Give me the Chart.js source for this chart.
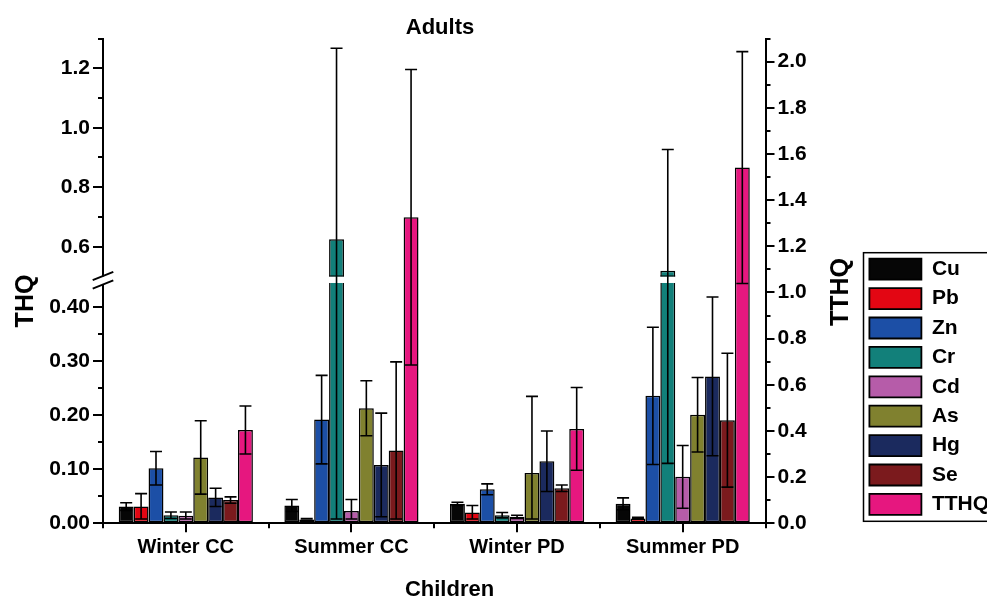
<!DOCTYPE html>
<html><head><meta charset="utf-8">
<script src="https://cdn.jsdelivr.net/npm/chart.js@4.4.1/dist/chart.umd.min.js"></script>
<style>
html,body{margin:0;padding:0;background:#fff;overflow:hidden;}
#wrap{position:relative;width:987px;height:599px;}
canvas{display:block;}
</style></head><body>
<div id="wrap"><canvas id="c" width="987" height="599"></canvas></div>
<script>
// ---------------- data ----------------
const categories = ['Winter CC', 'Summer CC', 'Winter PD', 'Summer PD'];
const seriesNames = ['Cu', 'Pb', 'Zn', 'Cr', 'Cd', 'As', 'Hg', 'Se', 'TTHQ'];

const Cu    = [0.031, 0.033, 0.036, 0.036];
const CuErr = [0.007, 0.011, 0.003, 0.011];
const Pb    = [0.031, 0.007, 0.020, 0.009];
const PbErr = [0.024, 0.002, 0.013, 0.002];
const Zn    = [0.102, 0.192, 0.063, 0.236];
const ZnErr = [0.031, 0.082, 0.010, 0.127];
const Cr    = [0.015, 0.625, 0.015, 0.519];
const CrErr = [0.006, 0.642, 0.005, 0.408];
const Cd    = [0.014, 0.023, 0.012, 0.086];
const CdErr = [0.007, 0.021, 0.003, 0.058];
const As    = [0.122, 0.213, 0.093, 0.201];
const AsErr = [0.068, 0.051, 0.142, 0.069];
const Hg    = [0.048, 0.108, 0.115, 0.272];
const HgErr = [0.017, 0.096, 0.056, 0.147];
const Se    = [0.043, 0.135, 0.065, 0.191];
const SeErr = [0.006, 0.164, 0.006, 0.124];
const TTHQ    = [0.404, 1.326, 0.409, 1.541];
const TTHQErr = [0.104, 0.640, 0.179, 0.502];

const leftMajorTicks  = [0, 0.1, 0.2, 0.3, 0.4, 0.6, 0.8, 1.0, 1.2];
const leftMinorTicks  = [0.05, 0.15, 0.25, 0.35, 0.7, 0.9, 1.1, 1.3];
const rightMajorTicks = [0, 0.2, 0.4, 0.6, 0.8, 1.0, 1.2, 1.4, 1.6, 1.8, 2.0];
const rightMinorTicks = [0.1, 0.3, 0.5, 0.7, 0.9, 1.1, 1.3, 1.5, 1.7, 1.9, 2.1];

const topTitle = 'Adults';
const bottomTitle = 'Children';
const leftTitle = 'THQ';
const rightTitle = 'TTHQ';

// ---------------- styling ----------------
const FONT = "'Liberation Sans', Arial, Helvetica, sans-serif";
const colors = ['#060606', '#e30613', '#1c4fa6', '#12807a', '#b65ca9', '#80812f', '#1b2a5e', '#7b1a1d', '#e6177f'];
const values = [Cu, Pb, Zn, Cr, Cd, As, Hg, Se, TTHQ];
const errors = [CuErr, PbErr, ZnErr, CrErr, CdErr, AsErr, HgErr, SeErr, TTHQErr];

// broken left axis: lower segment [0, BREAK_LOW], upper [BREAK_HIGH, AX_TOP]
const BREAK_LOW = 0.445, BREAK_HIGH = 0.5, AX_TOP = 1.3;
const LOW_SHARE = 0.4957, GAP_SHARE = 0.0134;
const ERR_FLOOR = 0.008;

function brokenFrac(v) {
  if (v <= BREAK_LOW) return v / BREAK_LOW * LOW_SHARE;
  if (v >= BREAK_HIGH) return LOW_SHARE + GAP_SHARE + (v - BREAK_HIGH) / (AX_TOP - BREAK_HIGH) * (1 - LOW_SHARE - GAP_SHARE);
  return LOW_SHARE + (v - BREAK_LOW) / (BREAK_HIGH - BREAK_LOW) * GAP_SHARE;
}
function brokenInv(f) {
  if (f <= LOW_SHARE) return f / LOW_SHARE * BREAK_LOW;
  if (f >= LOW_SHARE + GAP_SHARE) return BREAK_HIGH + (f - LOW_SHARE - GAP_SHARE) / (1 - LOW_SHARE - GAP_SHARE) * (AX_TOP - BREAK_HIGH);
  return BREAK_LOW + (f - LOW_SHARE) / GAP_SHARE * (BREAK_HIGH - BREAK_LOW);
}

class BrokenScale extends Chart.LinearScale {
  static id = 'brokenLinear';
  static defaults = {};
  buildTicks() { return leftMajorTicks.map(v => ({value: v})); }
  getPixelForValue(v) { return (v === null || v === undefined) ? NaN : this.getPixelForDecimal(brokenFrac(v)); }
  getValueForPixel(p) { return brokenInv(this.getDecimalForPixel(p)); }
}
Chart.register(BrokenScale);

const datasets = seriesNames.map((name, i) => ({
  label: name,
  data: values[i],
  backgroundColor: colors[i],
  borderColor: '#000',
  borderWidth: 1.5,
  borderSkipped: false,
  yAxisID: name === 'TTHQ' ? 'y2' : 'y',
  categoryPercentage: 0.81,
  barPercentage: 1.0
}));

const extras = {
  id: 'extras',
  afterDatasetsDraw(chart) {
    const ctx = chart.ctx;
    const ys = chart.scales.y;
    const gapTop = ys.getPixelForValue(BREAK_HIGH), gapBot = ys.getPixelForValue(BREAK_LOW);
    ctx.save();
    // break gap in bars that cross the axis break
    chart.data.datasets.forEach((ds, i) => {
      const meta = chart.getDatasetMeta(i);
      if (meta.yAxisID !== 'y') return;
      meta.data.forEach((el, j) => {
        if (ds.data[j] > BREAK_HIGH) {
          const l = el.x - el.width / 2, w = el.width;
          ctx.fillStyle = '#fff';
          ctx.fillRect(l - 0.5, gapTop, w + 1, gapBot - gapTop);
          ctx.strokeStyle = '#000'; ctx.lineWidth = 1;
          ctx.beginPath();
          ctx.moveTo(l, gapTop - 0.5); ctx.lineTo(l + w, gapTop - 0.5);
          ctx.stroke();
        }
      });
    });
    // error bars
    ctx.strokeStyle = '#000';
    ctx.lineWidth = 1.6;
    chart.data.datasets.forEach((ds, i) => {
      const meta = chart.getDatasetMeta(i);
      const sc = chart.scales[meta.yAxisID];
      meta.data.forEach((el, j) => {
        const v = ds.data[j], e = errors[i][j];
        const yh = sc.getPixelForValue(v + e);
        const yl = sc.getPixelForValue(Math.max(v - e, ERR_FLOOR));
        const x = el.x, cw = 6;
        ctx.beginPath();
        ctx.moveTo(x, yl); ctx.lineTo(x, yh);
        ctx.moveTo(x - cw, yh); ctx.lineTo(x + cw, yh);
        ctx.moveTo(x - cw, yl); ctx.lineTo(x + cw, yl);
        ctx.stroke();
      });
    });
    ctx.restore();
  },
  afterDraw(chart) {
    const ctx = chart.ctx;
    const ca = chart.chartArea;
    const ys = chart.scales.y, y2 = chart.scales.y2;
    ctx.save();
    ctx.strokeStyle = '#000';
    ctx.lineWidth = 2;
    // minor ticks
    ctx.beginPath();
    leftMinorTicks.forEach(v => { const p = Math.round(ys.getPixelForValue(v)); ctx.moveTo(ca.left - 5, p); ctx.lineTo(ca.left, p); });
    rightMinorTicks.forEach(v => { const p = Math.round(y2.getPixelForValue(v)); ctx.moveTo(ca.right, p); ctx.lineTo(ca.right + 5, p); });
    const cw = (ca.right - ca.left) / categories.length;
    for (let k = 0; k <= categories.length; k++) {
      const x = Math.round(ca.left + k * cw);
      ctx.moveTo(x, ca.bottom); ctx.lineTo(x, ca.bottom + 5);
    }
    ctx.stroke();
    // axis break symbol
    const gapTop = ys.getPixelForValue(BREAK_HIGH), gapBot = ys.getPixelForValue(BREAK_LOW);
    ctx.fillStyle = '#fff';
    ctx.fillRect(ca.left - 4, gapTop, 8, gapBot - gapTop + 1);
    ctx.lineWidth = 2;
    ctx.beginPath();
    [gapTop - 0.5, gapBot + 1.5].forEach(yc => {
      ctx.moveTo(ca.left - 10.3, yc + 4.1); ctx.lineTo(ca.left + 10.3, yc - 4.1);
    });
    ctx.stroke();
    // legend frame
    const lg = chart.legend;
    if (lg && lg.legendHitBoxes && lg.legendHitBoxes.length) {
      const first = lg.legendHitBoxes[0];
      ctx.lineWidth = 1.5;
      ctx.strokeRect(lg.left + 2.5, first.top - 6, 200, lg.bottom - 2 - (first.top - 6));
    }
    // titles
    ctx.fillStyle = '#000';
    ctx.font = "bold 22px " + FONT;
    ctx.textAlign = 'center';
    ctx.textBaseline = 'alphabetic';
    ctx.fillText(topTitle, 440, 33.5);
    ctx.fillText(bottomTitle, 449.5, 596);
    ctx.font = "bold 25px " + FONT;
    ctx.save(); ctx.translate(33, 301); ctx.rotate(-Math.PI / 2); ctx.fillText(leftTitle, 0, 0); ctx.restore();
    ctx.save(); ctx.translate(848, 292); ctx.rotate(-Math.PI / 2); ctx.fillText(rightTitle, 0, 0); ctx.restore();
    ctx.restore();
  }
};

const tickFont = {family: FONT, size: 21, weight: 'bold'};

new Chart(document.getElementById('c'), {
  type: 'bar',
  data: {labels: categories, datasets},
  options: {
    responsive: false,
    animation: false,
    devicePixelRatio: 1,
    layout: {padding: {top: 38.5, left: 0, right: 0, bottom: 0}},
    plugins: {
      tooltip: {enabled: false},
      title: {display: false},
      legend: {
        position: 'right',
        align: 'end',
        fullSize: false,
        maxWidth: 126,
        labels: {
          boxWidth: 52,
          boxHeight: 21,
          padding: 8.4,
          color: '#000',
          font: {family: FONT, size: 21, weight: 'bold'},
          generateLabels(chart) {
            const items = Chart.defaults.plugins.legend.labels.generateLabels(chart);
            items.forEach(it => { it.lineWidth = 1.8; it.strokeStyle = '#000'; });
            return items;
          }
        }
      }
    },
    scales: {
      x: {
        type: 'category',
        offset: true,
        grid: {offset: false, drawOnChartArea: false, drawTicks: true, tickLength: 9, color: '#000', lineWidth: 2},
        border: {display: true, color: '#000', width: 2},
        ticks: {color: '#000', font: {family: FONT, size: 20, weight: 'bold'}, padding: 3, maxRotation: 0},
        afterFit(s) { s.height = 75.7; }
      },
      y: {
        type: 'brokenLinear',
        position: 'left',
        min: 0,
        max: AX_TOP,
        grid: {drawOnChartArea: false, drawTicks: true, tickLength: 10, color: '#000', lineWidth: 2},
        border: {display: true, color: '#000', width: 2},
        ticks: {
          color: '#000', font: tickFont, padding: 3, autoSkip: false,
          callback: v => (v < BREAK_LOW ? v.toFixed(2) : v.toFixed(1))
        },
        afterFit(s) { s.width = 103; }
      },
      y2: {
        type: 'linear',
        position: 'right',
        min: 0,
        max: 2.1,
        afterBuildTicks(s) { s.ticks = rightMajorTicks.map(v => ({value: v})); },
        grid: {drawOnChartArea: false, drawTicks: true, tickLength: 9, color: '#000', lineWidth: 2},
        border: {display: true, color: '#000', width: 2},
        ticks: {color: '#000', font: tickFont, padding: 3, autoSkip: false, callback: v => v.toFixed(1)},
        afterFit(s) { s.width = 95.5; }
      }
    }
  },
  plugins: [extras]
});
</script>
</body></html>
